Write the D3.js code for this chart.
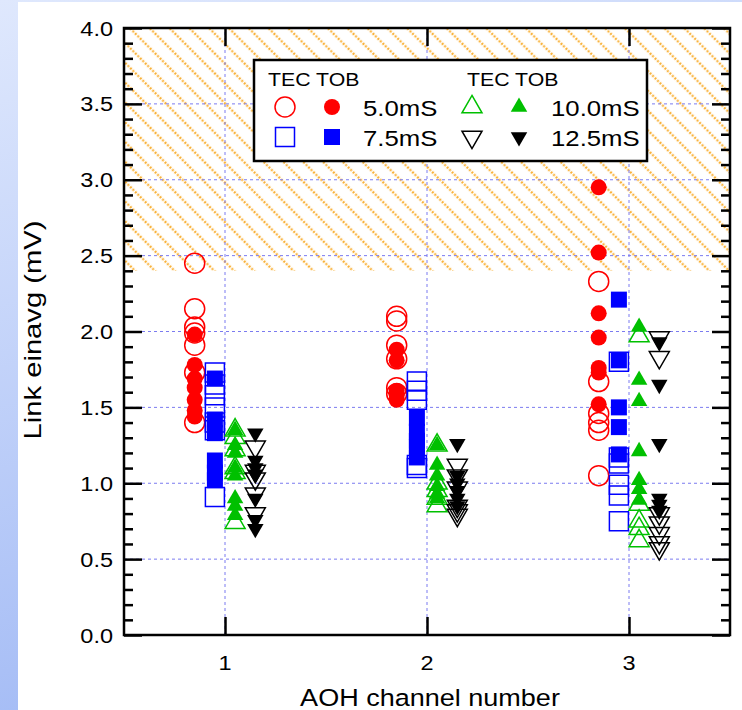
<!DOCTYPE html>
<html>
<head>
<meta charset="utf-8">
<script src="https://cdn.jsdelivr.net/npm/d3@7"></script>
<style>
  html, body { margin: 0; padding: 0; background: #fff; }
  svg { display: block; }
  text { font-family: "Liberation Sans", Arial, Helvetica, sans-serif; fill: #000; }
</style>
</head>
<body>
<svg id="chart" width="742" height="710"></svg>
<script>
// ---------- data ----------
const channels = [1, 2, 3];
const xTickLabels = ["1", "2", "3"];
const yTickValues = [0.0, 0.5, 1.0, 1.5, 2.0, 2.5, 3.0, 3.5, 4.0];
const hatchRange = [2.4, 4.0];

// values per channel (index 0 -> channel 1, ...)
const tec5_0  = [[2.45, 2.15, 2.03, 1.99, 1.91, 1.73, 1.40],
                 [2.10, 2.07, 1.91, 1.82, 1.63, 1.59],
                 [2.33, 1.67, 1.46, 1.40, 1.35, 1.05]];
const tob5_0  = [[1.98, 1.78, 1.69, 1.63, 1.55, 1.48, 1.44],
                 [1.88, 1.81, 1.61, 1.58, 1.55],
                 [2.95, 2.52, 2.12, 1.96, 1.76, 1.73, 1.52]];
const tec7_5  = [[1.73, 1.65, 1.58, 1.50, 1.40, 1.35, 0.91],
                 [1.67, 1.61, 1.55, 1.12, 1.10],
                 [1.80, 1.17, 1.13, 0.99, 0.92, 0.75]];
const tob7_5  = [[1.69, 1.42, 1.33, 1.15, 1.07, 1.02],
                 [1.43, 1.34, 1.28, 1.24, 1.17],
                 [2.21, 1.81, 1.50, 1.37, 1.19]];
const tec10_0 = [[1.35, 1.30, 1.22, 1.10, 1.07, 0.74],
                 [1.25, 1.00, 0.95, 0.90, 0.85],
                 [1.97, 0.86, 0.75, 0.70, 0.62]];
const tob10_0 = [[1.35, 1.25, 1.20, 1.10, 1.05, 0.90, 0.85, 0.79],
                 [1.25, 1.12, 1.05, 0.98, 0.93, 0.90],
                 [2.03, 1.68, 1.54, 1.21, 1.02, 0.96, 0.89]];
const tec12_5 = [[1.24, 1.08, 1.03, 0.93, 0.80],
                 [1.12, 1.05, 0.97, 0.85, 0.82, 0.79],
                 [1.96, 1.83, 0.80, 0.74, 0.67, 0.61, 0.57]];
const tob12_5 = [[1.33, 1.15, 1.10, 1.06, 0.90, 0.76, 0.70],
                 [1.26, 1.05, 1.00, 0.95, 0.90, 0.85],
                 [1.93, 1.65, 1.26, 0.90, 0.86, 0.82]];

const groupLabels = ["5.0mS", "7.5mS", "10.0mS", "12.5mS"];
const groupOffsets = [-0.15, -0.05, 0.05, 0.15];

// ---------- styles ----------
const series = [
  {name: "TOB 5.0mS",  vals: tob5_0,  g: 0, shape: "circle",   color: "#ff0000", open: false},
  {name: "TEC 5.0mS",  vals: tec5_0,  g: 0, shape: "circle",   color: "#ff0000", open: true},
  {name: "TOB 7.5mS",  vals: tob7_5,  g: 1, shape: "square",   color: "#0000ff", open: false},
  {name: "TEC 7.5mS",  vals: tec7_5,  g: 1, shape: "square",   color: "#0000ff", open: true},
  {name: "TOB 10.0mS", vals: tob10_0, g: 2, shape: "up",       color: "#00c000", open: false},
  {name: "TEC 10.0mS", vals: tec10_0, g: 2, shape: "up",       color: "#00c000", open: true},
  {name: "TOB 12.5mS", vals: tob12_5, g: 3, shape: "down",     color: "#000000", open: false},
  {name: "TEC 12.5mS", vals: tec12_5, g: 3, shape: "down",     color: "#000000", open: true}
];

const W = 742, H = 710;
const margin = {left: 124, right: 12, top: 28, bottom: 75};
const svg = d3.select("#chart");
const STRETCH = 1.12;

// ---------- background ----------
const defs = svg.append("defs");
const bg = defs.append("linearGradient").attr("id", "bggrad")
  .attr("x1", "0").attr("y1", "0").attr("x2", "0.3").attr("y2", "1");
bg.append("stop").attr("offset", "0").attr("stop-color", "#dfe8fd");
bg.append("stop").attr("offset", "1").attr("stop-color", "#a2baf5");
svg.append("rect").attr("width", W).attr("height", H).attr("fill", "url(#bggrad)");
svg.append("rect").attr("x", 18).attr("y", 2).attr("width", W - 18).attr("height", H - 2).attr("fill", "#ffffff");

// hatch pattern
const pat = defs.append("pattern").attr("id", "hatch")
  .attr("patternUnits", "userSpaceOnUse")
  .attr("width", 14).attr("height", 14)
  .attr("patternTransform", "rotate(-45)");
pat.append("line").attr("x1", 2).attr("y1", 0).attr("x2", 2).attr("y2", 14)
  .attr("stroke", "#f9b23a").attr("stroke-width", 2.4).attr("stroke-dasharray", "2 1.5");

// ---------- scales ----------
const x = d3.scaleLinear().domain([0.5, 3.5]).range([margin.left, W - margin.right]);
const y = d3.scaleLinear().domain([0, 4]).range([H - margin.bottom, margin.top]);

const plot = svg.append("g");

// hatch region
plot.append("rect")
  .attr("x", x(0.5)).attr("y", y(hatchRange[1]))
  .attr("width", x(3.5) - x(0.5)).attr("height", y(hatchRange[0]) - y(hatchRange[1]))
  .attr("fill", "url(#hatch)");

// grid
const grid = plot.append("g").attr("stroke", "#7b7bf0").attr("stroke-width", 1).attr("stroke-dasharray", "3 3");
grid.selectAll("line.h").data(yTickValues.filter(v => v > 0 && v < 4)).enter().append("line")
  .attr("x1", x(0.5)).attr("x2", x(3.5)).attr("y1", d => y(d)).attr("y2", d => y(d));
grid.selectAll("line.v").data(channels).enter().append("line")
  .attr("y1", y(0)).attr("y2", y(4)).attr("x1", d => x(d)).attr("x2", d => x(d));

// ---------- markers ----------
function symPath(shape, open) {
  let type, size;
  if (shape === "circle") { type = d3.symbolCircle; size = open ? Math.PI * 100 : Math.PI * 64; }
  else if (shape === "square") { type = d3.symbolSquare; size = open ? 19 * 19 : 16 * 16; }
  else { type = d3.symbolTriangle; const s = open ? 20 : 16.5; size = Math.sqrt(3) / 4 * s * s; }
  return d3.symbol().type(type).size(size)();
}
function symTransform(shape, px, py) {
  if (shape === "down") return `translate(${px},${py}) rotate(180)`;
  return `translate(${px},${py})`;
}

const markers = plot.append("g");
series.forEach(s => {
  const pts = [];
  s.vals.forEach((arr, ci) => arr.forEach(v => pts.push({ch: channels[ci], v})));
  markers.append("g").attr("class", "series").selectAll("path").data(pts).enter().append("path")
    .attr("d", symPath(s.shape, s.open))
    .attr("transform", d => symTransform(s.shape, x(d.ch + groupOffsets[s.g]), y(d.v)))
    .attr("fill", s.open ? "none" : s.color)
    .attr("stroke", s.open ? s.color : "none")
    .attr("stroke-width", 1.5);
});

// ---------- axes ----------
const axisG = svg.append("g");
const minorY = d3.range(0, 4.0001, 0.1).map(v => +v.toFixed(1));
const isMajor = v => Math.abs(v * 2 - Math.round(v * 2)) < 1e-6;

const axLeft = axisG.append("g").attr("transform", `translate(${x(0.5)},0)`)
  .call(d3.axisLeft(y).tickValues(minorY).tickSizeInner(0).tickSizeOuter(0).tickFormat(""));
axLeft.selectAll(".tick line").attr("x2", d => isMajor(d) ? 18 : 9);
const axRight = axisG.append("g").attr("transform", `translate(${x(3.5)},0)`)
  .call(d3.axisRight(y).tickValues(minorY).tickSizeInner(0).tickSizeOuter(0).tickFormat(""));
axRight.selectAll(".tick line").attr("x2", d => isMajor(d) ? -18 : -9);
axisG.append("g").attr("transform", `translate(0,${y(0)})`)
  .call(d3.axisBottom(x).tickValues(channels).tickSizeInner(-18).tickSizeOuter(0).tickFormat(""));
axisG.append("g").attr("transform", `translate(0,${y(4)})`)
  .call(d3.axisTop(x).tickValues(channels).tickSizeInner(-18).tickSizeOuter(0).tickFormat(""));
axisG.selectAll(".domain").remove();
axisG.selectAll(".tick line").attr("stroke", "#000").attr("stroke-width", 2.5);

// frame
svg.append("rect").attr("x", x(0.5)).attr("y", y(4))
  .attr("width", x(3.5) - x(0.5)).attr("height", y(0) - y(4))
  .attr("fill", "none").attr("stroke", "#000").attr("stroke-width", 2.5);

// text helper (horizontally stretched to match reference glyph widths)
function stext(parent, str, px, py, size, anchor, rot, stretch) {
  return parent.append("text")
    .attr("transform", `translate(${px},${py})${rot ? ` rotate(${rot})` : ""} scale(${stretch || STRETCH},1)`)
    .attr("font-size", size).attr("text-anchor", anchor || "start").text(str);
}

// y tick labels
const labels = svg.append("g");
yTickValues.forEach(v => {
  stext(labels, v.toFixed(1), x(0.5) - 11, y(v) + 7.5, 21, "end");
});
// x tick labels
channels.forEach((c, i) => {
  stext(labels, xTickLabels[i], x(c), y(0) + 35, 21, "middle");
});
// axis titles
stext(labels, "AOH channel number", x(2) + 3, 706, 23.5, "middle", null, 1.15);
stext(labels, "Link einavg (mV)", 41, 330, 23, "middle", -90, 1.27);

// ---------- legend ----------
const lg = svg.append("g");
lg.append("rect").attr("x", 254).attr("y", 60).attr("width", 393).attr("height", 101)
  .attr("fill", "#fff").attr("stroke", "#000").attr("stroke-width", 2.5);
const legendCols = [
  {hdrX: 268, openX: 285, fillX: 332, textX: 363, groups: [0, 1]},
  {hdrX: 467, openX: 472, fillX: 519, textX: 551, groups: [2, 3]}
];
const rowY = [107, 137];
legendCols.forEach(col => {
  stext(lg, "TEC TOB", col.hdrX, 86, 19, "start");
  col.groups.forEach((g, r) => {
    const sOpen = series.find(s => s.g === g && s.open);
    const sFill = series.find(s => s.g === g && !s.open);
    lg.append("path").attr("d", symPath(sOpen.shape, true))
      .attr("transform", symTransform(sOpen.shape, col.openX, rowY[r]))
      .attr("fill", "none").attr("stroke", sOpen.color).attr("stroke-width", 1.5);
    lg.append("path").attr("d", symPath(sFill.shape, false))
      .attr("transform", symTransform(sFill.shape, col.fillX, rowY[r]))
      .attr("fill", sFill.color);
    stext(lg, groupLabels[g], col.textX, rowY[r] + 8.5, 23, "start");
  });
});
</script>
</body>
</html>
